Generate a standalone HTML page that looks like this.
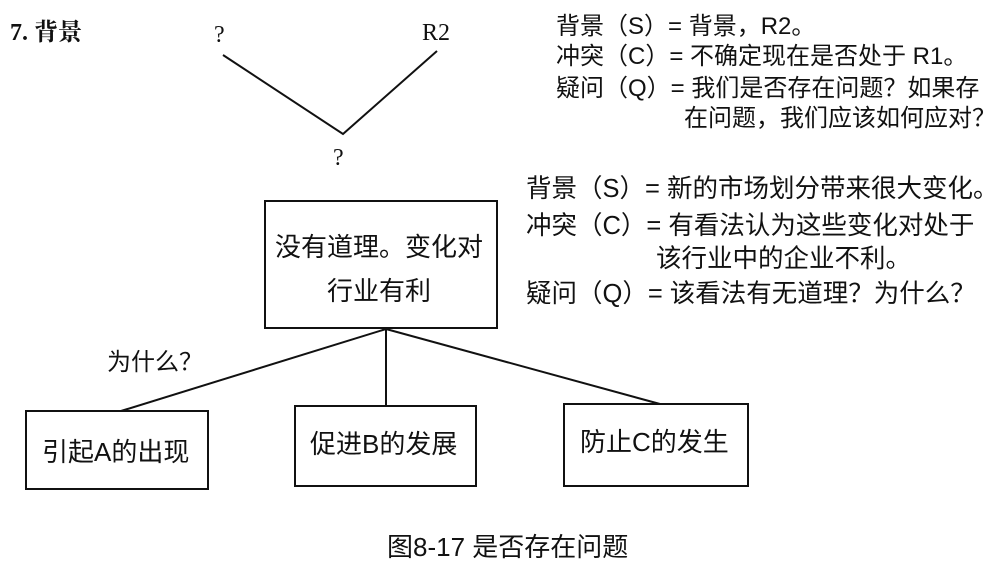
<!DOCTYPE html>
<html><head><meta charset="utf-8"><style>
body{margin:0;background:#fff;}
svg text{font-family:"Liberation Serif","Noto Serif CJK SC","Noto Sans CJK SC",serif;fill:#111;}
.s{font-family:"Liberation Sans","Noto Sans CJK SC",sans-serif;}
</style></head><body>
<svg width="1000" height="568" viewBox="0 0 1000 568" xmlns="http://www.w3.org/2000/svg">
<g stroke="#111" stroke-width="2" fill="none">
<polyline points="223,55 343,134 437,51"/>
<rect x="265" y="201" width="232" height="127"/>
<rect x="26" y="411" width="182" height="78"/>
<rect x="295" y="406" width="181" height="80"/>
<rect x="564" y="404" width="184" height="82"/>
<line x1="386" y1="329" x2="121" y2="411"/>
<line x1="386" y1="329" x2="386" y2="406"/>
<line x1="386" y1="329" x2="660" y2="404"/>
</g>
<text x="10" y="40" font-size="24" font-weight="bold">7. 背景</text>
<text x="214" y="42" font-size="24">?</text>
<text x="422" y="40" font-size="24">R2</text>
<text x="333" y="165" font-size="24">?</text>
<g font-size="24">
<text class="s" x="556" y="34">背景（S）= 背景，R2。</text>
<text class="s" x="556" y="64">冲突（C）= 不确定现在是否处于 R1。</text>
<text class="s" x="556" y="96">疑问（Q）= 我们是否存在问题？如果存</text>
<text class="s" x="684" y="126">在问题，我们应该如何应对？</text>
</g>
<g font-size="25.5">
<text class="s" x="526" y="197">背景（S）= 新的市场划分带来很大变化。</text>
<text class="s" x="526" y="234">冲突（C）= 有看法认为这些变化对处于</text>
<text class="s" x="656" y="267">该行业中的企业不利。</text>
<text class="s" x="526" y="302">疑问（Q）= 该看法有无道理？为什么？</text>
</g>
<g font-size="26">
<text class="s" x="275" y="256">没有道理。变化对</text>
<text class="s" x="327" y="300">行业有利</text>
<text class="s" x="42" y="461">引起A的出现</text>
<text class="s" x="310" y="453">促进B的发展</text>
<text class="s" x="580" y="451">防止C的发生</text>
</g>
<text class="s" x="107" y="370" font-size="24">为什么？</text>
<text class="s" x="387" y="556" font-size="26">图8-17 是否存在问题</text>
</svg>
</body></html>
